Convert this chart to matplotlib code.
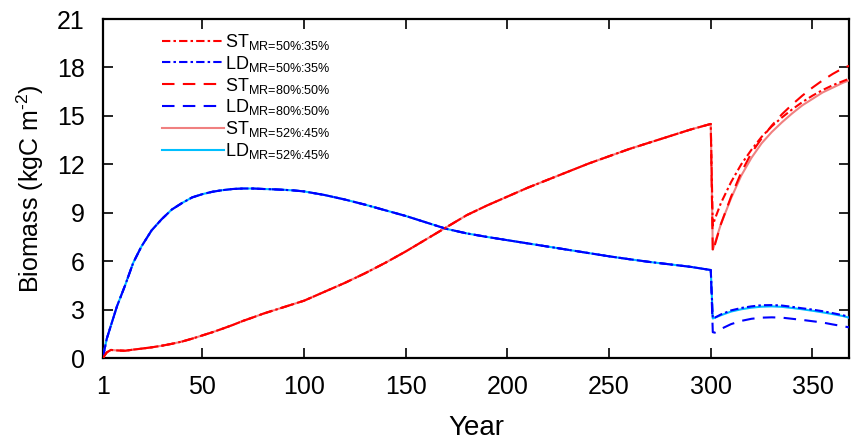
import matplotlib
matplotlib.use("Agg")
import matplotlib.pyplot as plt

plt.rcParams['font.family'] = ['Liberation Sans', 'DejaVu Sans']
plt.rcParams['mathtext.fontset'] = 'custom'
plt.rcParams['mathtext.rm'] = 'Liberation Sans'
plt.rcParams['mathtext.it'] = 'Liberation Sans'

# shared spin-up years (all scenarios overlap until year 300)
base_years = [1, 3, 5, 8, 12, 16, 20, 25, 30, 35, 40, 45, 50, 55, 60, 65, 70, 75, 80, 85,
              90, 95, 100, 110, 120, 130, 140, 150, 160, 170, 180, 190, 200, 210, 220,
              230, 240, 250, 260, 270, 280, 290, 300]
st_base = [0, 0.35, 0.5, 0.47, 0.45, 0.52, 0.58, 0.66, 0.76, 0.88, 1.02, 1.2, 1.4, 1.6,
           1.82, 2.05, 2.3, 2.52, 2.75, 2.95, 3.15, 3.35, 3.55, 4.1, 4.65, 5.25, 5.9, 6.6,
           7.35, 8.1, 8.85, 9.45, 10.0, 10.55, 11.05, 11.55, 12.05, 12.5, 12.95, 13.35,
           13.75, 14.15, 14.5]
ld_base = [0, 1.2, 2.0, 3.2, 4.5, 5.9, 6.9, 7.9, 8.6, 9.2, 9.6, 9.95, 10.15, 10.3, 10.4,
           10.47, 10.5, 10.5, 10.47, 10.45, 10.42, 10.38, 10.32, 10.1, 9.82, 9.5, 9.15, 8.8,
           8.4, 8.0, 7.72, 7.5, 7.3, 7.1, 6.9, 6.7, 6.5, 6.3, 6.12, 5.95, 5.8, 5.65, 5.45]

# after the disturbance
post_years = [301, 302, 305, 310, 315, 320, 325, 330, 335, 340, 345, 350, 355, 360, 365, 368]
st_50_35 = [8.2, 8.6, 9.6, 10.9, 12.0, 12.9, 13.7, 14.35, 14.9, 15.4, 15.85, 16.25, 16.6,
            16.9, 17.15, 17.3]
ld_50_35 = [2.45, 2.5, 2.7, 2.95, 3.1, 3.2, 3.27, 3.28, 3.25, 3.17, 3.08, 3.0, 2.9, 2.78,
            2.65, 2.55]
st_80_50 = [6.6, 7.0, 8.3, 10.0, 11.5, 12.7, 13.6, 14.4, 15.1, 15.7, 16.25, 16.75, 17.2,
            17.6, 17.95, 18.1]
ld_80_50 = [1.6, 1.57, 1.8, 2.1, 2.3, 2.43, 2.5, 2.52, 2.5, 2.43, 2.36, 2.28, 2.2, 2.08,
            1.97, 1.9]
st_52_45 = [6.7, 7.1, 8.3, 9.9, 11.3, 12.4, 13.3, 14.0, 14.6, 15.15, 15.65, 16.05, 16.45,
            16.75, 17.05, 17.2]
ld_52_45 = [2.45, 2.5, 2.65, 2.88, 3.02, 3.12, 3.18, 3.2, 3.17, 3.1, 3.02, 2.93, 2.83, 2.72,
            2.6, 2.5]

x_ticks = [1, 50, 100, 150, 200, 250, 300, 350]
y_ticks = [0, 3, 6, 9, 12, 15, 18, 21]

dashdot = (0, (4, 1.5, 1.2, 1.5))
dashed = (0, (6, 4))

series = [
    (st_50_35, st_base, 'red', dashdot, r'ST$_{\text{MR=50\%:35\%}}$'),
    (ld_50_35, ld_base, 'blue', dashdot, r'LD$_{\text{MR=50\%:35\%}}$'),
    (st_80_50, st_base, 'red', dashed, r'ST$_{\text{MR=80\%:50\%}}$'),
    (ld_80_50, ld_base, 'blue', dashed, r'LD$_{\text{MR=80\%:50\%}}$'),
    (st_52_45, st_base, '#f08080', '-', r'ST$_{\text{MR=52\%:45\%}}$'),
    (ld_52_45, ld_base, '#00bfff', '-', r'LD$_{\text{MR=52\%:45\%}}$'),
]

fig = plt.figure(figsize=(8.51, 4.42), dpi=100)
ax = fig.add_axes([0.1207, 0.190, 0.877, 0.767])

handles = []
for i, (post, base, color, ls, label) in enumerate(series):
    line, = ax.plot(base_years + post_years, base + post, color=color, linestyle=ls,
                    linewidth=1.5, label=label, zorder=10 - i)
    handles.append(line)

ax.set_xlim(1, 368)
ax.set_ylim(0, 21)
ax.set_xticks(x_ticks)
ax.set_yticks(y_ticks)
ax.tick_params(direction='in', length=7, width=1.2, top=True, right=True,
               labelsize=18)
ax.tick_params(axis='x', labeltop=False, pad=12)
ax.tick_params(axis='y', labelright=False, pad=13)
for sp in ax.spines.values():
    sp.set_linewidth(1.6)

ax.set_xlabel('Year', fontsize=20, labelpad=12)
ax.set_ylabel(r'Biomass (kgC m$^{\text{-2}}$)', fontsize=18, labelpad=8)

ax.legend(handles=handles, loc='upper left', bbox_to_anchor=(0.07, 0.983),
          frameon=False, fontsize=13, handlelength=3.4, handletextpad=0.1,
          labelspacing=0.1, borderaxespad=0)

fig.savefig('out.png', dpi=100)
